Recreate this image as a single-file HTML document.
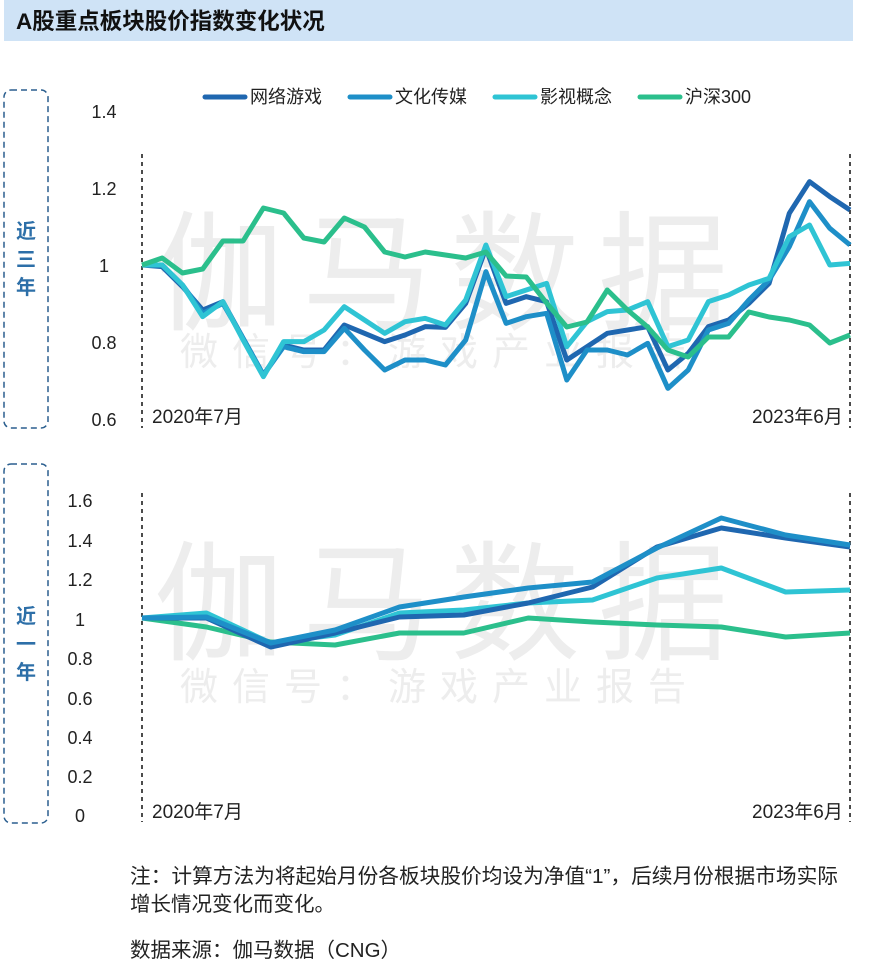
<!DOCTYPE html>
<html><head><meta charset="utf-8"><style>
body{margin:0;background:#fff;width:891px;height:977px;overflow:hidden;font-family:"Liberation Sans","Noto Sans CJK SC",sans-serif;}
</style></head><body>
<svg width="891" height="977" xmlns="http://www.w3.org/2000/svg" style="position:absolute;left:0;top:0;font-family:'Liberation Sans','Noto Sans CJK SC',sans-serif">
<rect x="4" y="0" width="849" height="41" fill="#cfe3f6"/>
<text x="16" y="29" font-size="22.5" font-weight="bold" fill="#111">A股重点板块股价指数变化状况</text>
<rect x="4" y="90" width="44" height="338" rx="7" fill="none" stroke="#2b5f8f" stroke-width="1.5" stroke-dasharray="6,4"/>
<rect x="4" y="464" width="44" height="359" rx="7" fill="none" stroke="#2b5f8f" stroke-width="1.5" stroke-dasharray="6,4"/>
<g font-size="20" font-weight="bold" fill="#2d6fa8" text-anchor="middle">
<text x="26" y="238">近</text><text x="26" y="266">三</text><text x="26" y="294">年</text>
<text x="26" y="623">近</text><text x="26" y="651">一</text><text x="26" y="679">年</text>
</g>
<g fill="#ededed" text-anchor="middle">
<text x="450" y="320" font-size="130" letter-spacing="18">伽马数据</text>
<text x="440" y="365" font-size="38" letter-spacing="14">微信号：游戏产业报告</text>
<text x="450" y="650" font-size="130" letter-spacing="18">伽马数据</text>
<text x="440" y="700" font-size="38" letter-spacing="14">微信号：游戏产业报告</text>
</g>
<g font-size="18" fill="#222">
<line x1="205" y1="97" x2="245" y2="97" stroke="#1f67b0" stroke-width="5" stroke-linecap="round"/><text x="250" y="103">网络游戏</text>
<line x1="350" y1="97" x2="390" y2="97" stroke="#1e8fc8" stroke-width="5" stroke-linecap="round"/><text x="395" y="103">文化传媒</text>
<line x1="495" y1="97" x2="535" y2="97" stroke="#2fc4d4" stroke-width="5" stroke-linecap="round"/><text x="540" y="103">影视概念</text>
<line x1="640" y1="97" x2="680" y2="97" stroke="#2bbf8c" stroke-width="5" stroke-linecap="round"/><text x="685" y="103">沪深300</text>
</g>
<g font-size="18" fill="#222" text-anchor="middle">
<text x="104" y="118">1.4</text><text x="104" y="195">1.2</text><text x="104" y="272">1</text><text x="104" y="349">0.8</text><text x="104" y="426">0.6</text>
<text x="80" y="507">1.6</text><text x="80" y="547">1.4</text><text x="80" y="586">1.2</text><text x="80" y="626">1</text><text x="80" y="665">0.8</text><text x="80" y="705">0.6</text><text x="80" y="744">0.4</text><text x="80" y="783">0.2</text><text x="80" y="822">0</text>
</g>
<g font-size="19" fill="#222">
<text x="152" y="423">2020年7月</text><text x="752" y="423">2023年6月</text>
<text x="152" y="818">2020年7月</text><text x="752" y="818">2023年6月</text>
</g>
<g stroke="#111" stroke-width="1.5" stroke-dasharray="4,4">
<line x1="142" y1="154" x2="142" y2="428"/><line x1="850" y1="154" x2="850" y2="428"/>
<line x1="142" y1="493" x2="142" y2="822"/><line x1="850" y1="493" x2="850" y2="822"/>
</g>
<g id="top" fill="none" stroke-width="5" stroke-linejoin="round"></g>
<g id="bot" fill="none" stroke-width="5" stroke-linejoin="round"></g>
<g font-size="20.5" fill="#222">
<text x="130" y="883" textLength="708" lengthAdjust="spacingAndGlyphs">注：计算方法为将起始月份各板块股价均设为净值“1”，后续月份根据市场实际</text>
<text x="130" y="911">增长情况变化而变化。</text>
<text x="130" y="957">数据来源：伽马数据（CNG）</text>
</g>
</svg>
<script>
function pl(g,ys,x0,step,color){var p=ys.map(function(y,i){return (x0+i*step).toFixed(1)+","+y}).join(" ");
var e=document.createElementNS("http://www.w3.org/2000/svg","polyline");e.setAttribute("points",p);e.setAttribute("stroke",color);document.getElementById(g).appendChild(e);}
function z(a){return a.map(function(v){return 170+v/3});}
var s=708/35;
pl("top",z([285,290,350,420,395,505,615,525,540,540,465,490,515,495,470,472,400,235,400,380,395,570,530,490,480,470,600,550,470,450,400,340,130,35,80,120]),142,s,"#1f67b0");
pl("top",z([285,285,345,430,400,505,615,530,545,545,475,540,600,570,570,585,510,305,460,440,430,630,540,540,555,520,655,600,480,460,390,330,230,95,175,225]),142,s,"#1e8fc8");
pl("top",z([285,285,345,440,395,510,620,515,515,480,410,450,490,455,445,465,390,225,380,360,340,530,455,425,420,395,530,510,395,375,345,325,200,165,285,280]),142,s,"#2fc4d4");
pl("top",[265,258,273,269,241,241,208,213,238,242,218,227,252,257,252,255,258,252,276,277,303,327,322,290,310,327,350,357,337,337,312,317,320,325,343,335],142,s,"#2bbf8c");
var t=708/11;
pl("bot",[618,627,642,645,633,633,618,622,625,627,637,633],142,t,"#2bbf8c");
pl("bot",[618,613,643,635,613,610,603,600,578,568,592,590],142,t,"#2fc4d4");
pl("bot",[618,618,647,633,617,615,603,587,547,528,538,547],142,t,"#1f67b0");
pl("bot",[618,617,643,630,607,597,588,582,548,518,535,545],142,t,"#1e8fc8");
</script>
</body></html>
